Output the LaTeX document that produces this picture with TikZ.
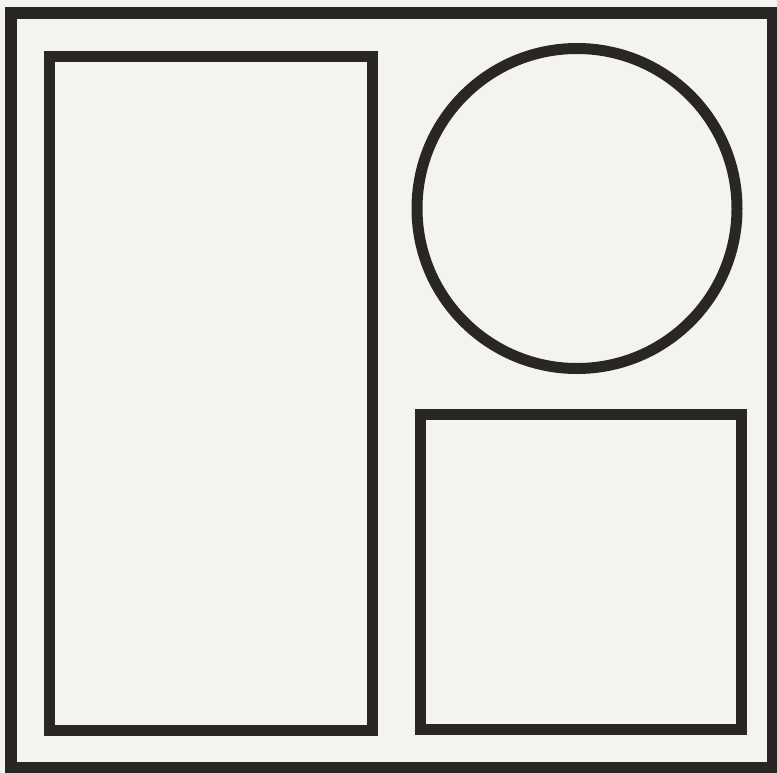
\documentclass[tikz,border=0pt]{standalone}
\usepackage{tikz}
\usetikzlibrary{positioning, shapes.geometric, backgrounds}

\definecolor{ink}{RGB}{42,38,38}
\definecolor{paper}{RGB}{243,244,239}

\begin{document}
\begin{tikzpicture}[
    x=1pt, y=-1pt,
    frame/.style={rectangle, draw=ink, line width=12pt, inner sep=0pt,
                  minimum width=762pt, minimum height=755pt},
    tallbox/.style={rectangle, draw=ink, line width=11pt, inner sep=0pt,
                    minimum width=323pt, minimum height=674pt},
    sqbox/.style={rectangle, draw=ink, line width=11pt, inner sep=0pt,
                  minimum width=321pt, minimum height=315pt},
    ring/.style={circle, draw=ink, line width=11pt, inner sep=0pt,
                 minimum size=320pt},
]
    % page
    \fill[paper] (0,0) rectangle (777,772);
    \useasboundingbox (0,0) rectangle (777,772);

    % outer border
    \node[frame] (border) at (392, 390.5) {};

    % left column
    \node[tallbox] (tall) at (210.5, 393) {};

    % right column
    \node[ring] (round) at (577, 208.5) {};
    \node[sqbox] (square) at (580.5, 571.5) {};
\end{tikzpicture}
\end{document}
